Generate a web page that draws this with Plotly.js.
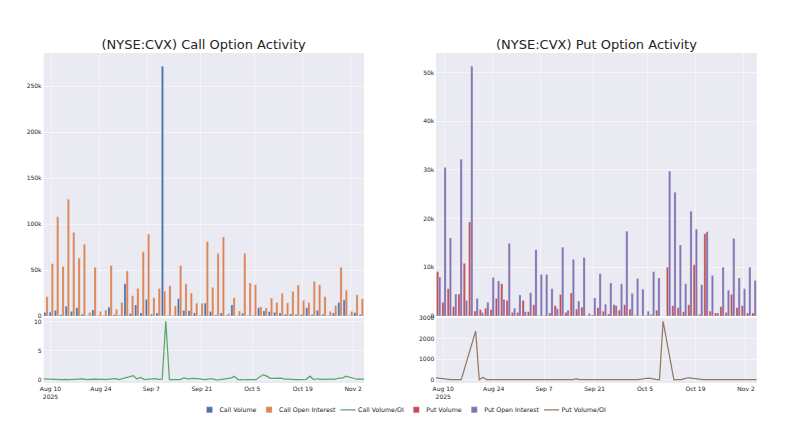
<!DOCTYPE html>
<html>
<head>
<meta charset="utf-8">
<script src="https://cdn.plot.ly/plotly-3.0.1.min.js"></script>
<style>
html,body{margin:0;padding:0;overflow:hidden;background:#fff;}
#chart{width:1600px;height:854px;transform:scale(0.5);transform-origin:0 0;}
</style>
</head>
<body>
<div id="chart"></div>
<script>
// Trading dates shown in the chart
const dates = ['2025-08-08','2025-08-11','2025-08-12','2025-08-13','2025-08-14','2025-08-15','2025-08-19','2025-08-20','2025-08-21','2025-08-22',
'2025-08-25','2025-08-26','2025-08-27','2025-08-28','2025-08-29','2025-09-02','2025-09-03','2025-09-04','2025-09-05','2025-09-08',
'2025-09-09','2025-09-10','2025-09-11','2025-09-12','2025-09-15','2025-09-16','2025-09-17','2025-09-18','2025-09-19','2025-09-22',
'2025-09-23','2025-09-24','2025-09-25','2025-09-26','2025-09-29','2025-09-30','2025-10-01','2025-10-02','2025-10-03','2025-10-06',
'2025-10-08','2025-10-09','2025-10-10','2025-10-13','2025-10-14','2025-10-15','2025-10-16','2025-10-17','2025-10-20','2025-10-21',
'2025-10-22','2025-10-23','2025-10-24','2025-10-28','2025-10-29','2025-10-30','2025-10-31','2025-11-03','2025-11-04','2025-11-05'];
// dates without data (hidden on the bar axes)
const missingDates = ['2025-08-18','2025-09-01','2025-10-07','2025-10-27'];

const callVolume = [3700,4000,6000,1500,10600,4800,9000,2000,300,6600,
300,500,9500,1500,800,35000,2600,12000,3300,18000,
1800,3300,272000,500,500,18700,6000,5800,3300,500,
14000,5000,1000,3300,700,12000,300,3000,500,500,
9000,5500,4800,4000,3300,1800,2200,1500,1500,9000,
1500,6200,1800,500,3300,14600,17600,500,3700,1500];
const callOpenInterest = [21000,57000,108000,54000,127000,91000,63000,78000,3700,53000,
4800,6200,55000,7300,14600,49000,22000,30000,70000,89000,
20000,30000,27000,33000,11000,55000,35000,25000,14000,14000,
81000,31000,68000,86000,2600,20000,5500,68000,36000,34000,
10000,8800,19400,14600,24500,14300,26700,33700,17000,14600,
37700,34000,21000,5000,11400,53000,28000,5000,23000,18700];
const callVolOI = [0.18,0.07,0.06,0.03,0.08,0.05,0.14,0.03,0.08,0.12,
0.06,0.08,0.17,0.2,0.05,0.71,0.12,0.4,0.05,0.2,
0.09,0.11,10.1,0.02,0.05,0.34,0.17,0.23,0.24,0.04,
0.17,0.16,0.01,0.04,0.27,0.6,0.05,0.04,0.01,0.01,
0.9,0.63,0.25,0.27,0.13,0.13,0.08,0.04,0.09,0.62,
0.04,0.18,0.09,0.1,0.29,0.28,0.63,0.1,0.16,0.08];

const putVolume = [9100,2800,5600,1900,4500,10800,19300,1000,1300,1600,
1300,3600,6600,3200,700,700,3200,900,2300,100,
100,600,2100,4400,700,4700,1400,1800,50,200,
1700,1000,400,2300,1200,2300,1400,100,50,100,
300,1200,20,10000,2100,1700,900,2300,10500,300,
16900,1000,600,1900,700,4400,1700,2100,600,600];
const putOpenInterest = [8000,30500,16000,4500,32200,3200,51300,3600,700,2800,
7900,7200,3400,14900,1600,4300,900,4800,13600,8500,
8500,5600,1500,14100,1200,11600,3100,12000,500,3700,
8700,2400,6800,2100,6600,17400,4600,7700,5500,1000,
9100,7800,10,29700,25400,14600,6600,21500,17800,6400,
17300,8300,600,10000,5300,15900,7800,5600,10000,7300];
const putVolOI = [100,30,8,5,5,6,2380,5,110,10,
5,5,8,4,6,5,6,4,5,4,
3,5,6,4,10,50,8,5,4,3,
5,4,6,5,5,4,5,8,12,80,
25,3,2860,3,5,10,60,100,30,8,
5,6,4,5,6,5,6,4,5,5];

const titles = ['(NYSE:CVX) Call Option Activity','(NYSE:CVX) Put Option Activity'];

const C = {
  callVol:'rgb(76,114,176)', callOI:'rgb(221,132,82)', callRatio:'rgb(85,168,104)',
  putVol:'rgb(196,78,82)', putOI:'rgb(129,114,179)', putRatio:'rgb(147,120,96)'
};
const barLine = {color:'rgb(234,234,242)', width:0.5};

const data = [
  {type:'bar', name:'Call Volume', x:dates, y:callVolume, xaxis:'x', yaxis:'y', marker:{color:C.callVol, line:barLine}},
  {type:'bar', name:'Call Open Interest', x:dates, y:callOpenInterest, xaxis:'x', yaxis:'y', marker:{color:C.callOI, line:barLine}},
  {type:'scatter', mode:'lines', name:'Call Volume/OI', x:dates, y:callVolOI, xaxis:'x3', yaxis:'y3', line:{color:C.callRatio, width:2.5}},
  {type:'bar', name:'Put Volume', x:dates, y:putVolume, xaxis:'x2', yaxis:'y2', marker:{color:C.putVol, line:barLine}},
  {type:'bar', name:'Put Open Interest', x:dates, y:putOpenInterest, xaxis:'x2', yaxis:'y2', marker:{color:C.putOI, line:barLine}},
  {type:'scatter', mode:'lines', name:'Put Volume/OI', x:dates, y:putVolOI, xaxis:'x4', yaxis:'y4', line:{color:C.putRatio, width:2.5}}
];

const axBase = {gridcolor:'white', linecolor:'white', zerolinecolor:'white', ticks:'', showgrid:true};
const breaks = [{bounds:['sat','mon']}, {values:missingDates}];
const dL = [0.0541, 0.455], dR = [0.545, 0.946];
const dTop = [0.203, 1], dBot = [0, 0.197];

const layout = {
  width:1600, height:854,
  margin:{l:0, r:0, t:106, b:88},
  paper_bgcolor:'white', plot_bgcolor:'rgb(234,234,242)',
  font:{family:'DejaVu Sans', size:12, color:'rgb(36,36,36)'},
  barmode:'group', bargap:0.2,
  hovermode:false,
  showlegend:true,
  legend:{orientation:'h', x:0.505, xanchor:'center', y:-0.082, yanchor:'middle', font:{size:12.5}, itemwidth:30},
  xaxis:Object.assign({}, axBase, {domain:dL, anchor:'y', type:'date', rangebreaks:breaks, showticklabels:false}),
  yaxis:Object.assign({}, axBase, {domain:dTop, anchor:'x'}),
  xaxis2:Object.assign({}, axBase, {domain:dR, anchor:'y2', type:'date', rangebreaks:breaks, showticklabels:false}),
  yaxis2:Object.assign({}, axBase, {domain:dTop, anchor:'x2'}),
  xaxis3:Object.assign({}, axBase, {domain:dL, anchor:'y3', type:'date'}),
  yaxis3:Object.assign({}, axBase, {domain:dBot, anchor:'x3'}),
  xaxis4:Object.assign({}, axBase, {domain:dR, anchor:'y4', type:'date'}),
  yaxis4:Object.assign({}, axBase, {domain:dBot, anchor:'x4'}),
  annotations:[
    {text:titles[0], xref:'paper', yref:'paper', x:(dL[0]+dL[1])/2, y:1.027, xanchor:'center', yanchor:'middle', showarrow:false, font:{size:26}},
    {text:titles[1], xref:'paper', yref:'paper', x:(dR[0]+dR[1])/2, y:1.027, xanchor:'center', yanchor:'middle', showarrow:false, font:{size:26}}
  ]
};

Plotly.newPlot('chart', data, layout, {displayModeBar:false, staticPlot:true});
</script>
</body>
</html>
